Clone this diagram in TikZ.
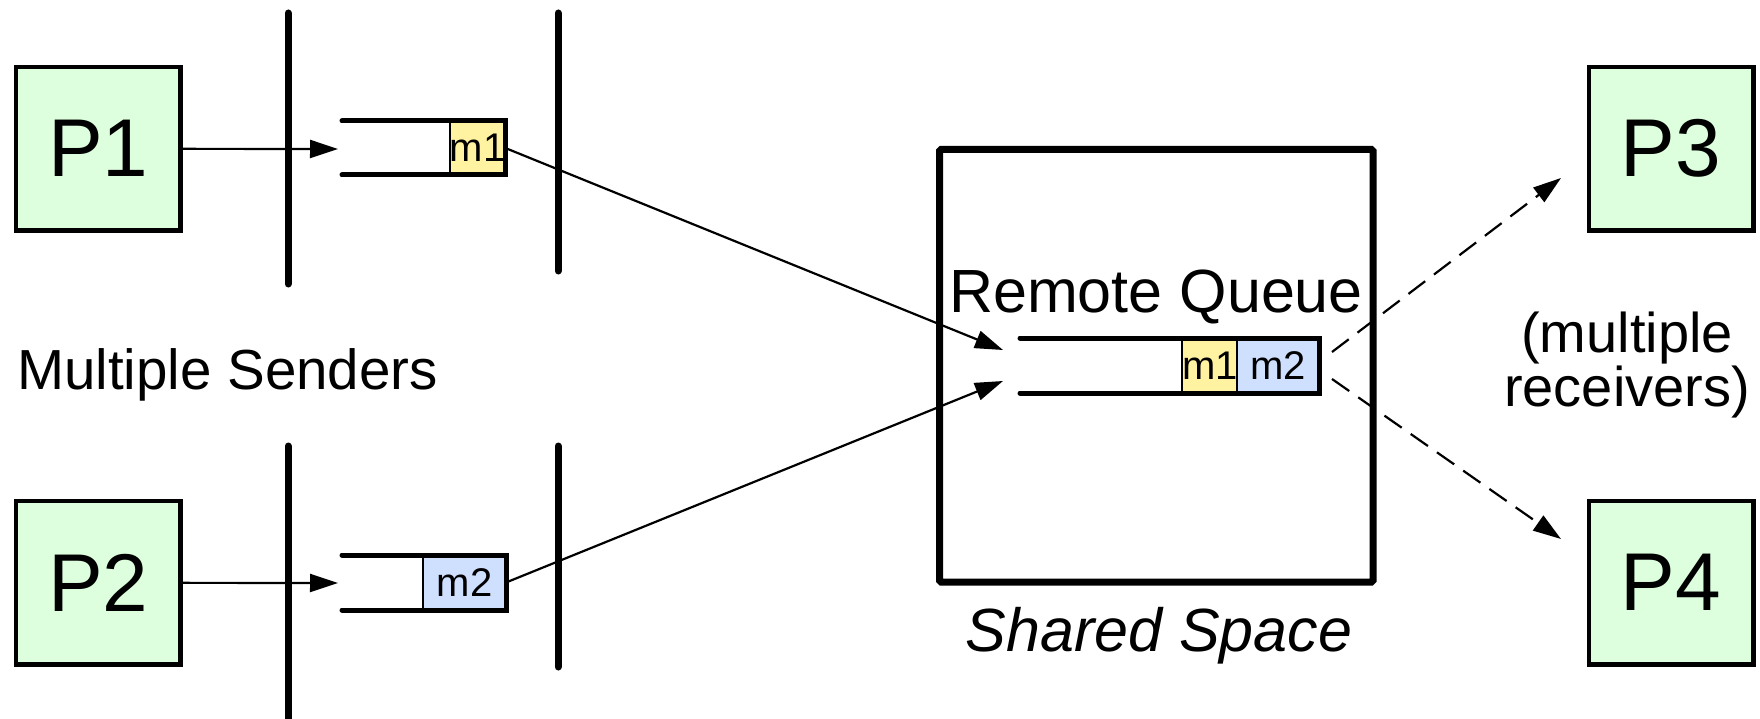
\documentclass[tikz,border=0pt]{standalone}
\usepackage{fontspec}
\setmainfont{Liberation Sans}
\usetikzlibrary{arrows.meta}
\definecolor{procgreen}{RGB}{221,255,221}
\definecolor{msgyellow}{RGB}{255,242,160}
\definecolor{msgblue}{RGB}{207,224,255}
\begin{document}
\begin{tikzpicture}[x=1pt,y=-1pt,
  proc/.style={draw, line width=4.5pt, fill=procgreen, minimum width=164.5pt,
    minimum height=163.5pt, inner sep=0pt, font=\fontsize{82}{90}\selectfont},
  cell/.style={draw, line width=2pt, inner sep=0pt, outer sep=0pt,
    font=\fontsize{40}{44}\selectfont},
  wall/.style={line width=7pt, line cap=round},
  qline/.style={line width=5pt, line cap=round, line join=miter},
  flow/.style={line width=2.2pt, -{Triangle[length=28pt,width=18pt]}},
  recv/.style={flow, dash pattern=on 21pt off 11pt},
  lbl/.style={inner sep=0pt, anchor=base}
]
\useasboundingbox (0,0) rectangle (1760,719);

% processes
\node[proc] (P1) at (98.25,148.75) {P1};
\node[proc] (P2) at (98.25,582.75) {P2};
\node[proc] (P3) at (1671,148.75) {P3};
\node[proc] (P4) at (1671,582.75) {P4};

% address space boundaries of the senders
\draw[wall] (288,13) -- (288,284);
\draw[wall] (558,13) -- (558,271);
\draw[wall] (288,446) -- (288,735);
\draw[wall] (558,446) -- (558,667);

% local send queues
\node[cell, fill=msgyellow, minimum width=55pt, minimum height=54pt] (qa) at (477.5,148) {m1};
\draw[qline] (342,121) -- (qa.north east) -- (qa.south east) -- (342,175);
\node[cell, fill=msgblue, minimum width=83pt, minimum height=55pt] (qb) at (464.5,582.5) {m2};
\draw[qline] (342,555) -- (qb.north east) -- (qb.south east) -- (342,610);

% shared space with the remote queue
\node[draw, line width=7pt, minimum width=433.5pt, minimum height=432.5pt,
  inner sep=0pt, rounded corners=1.5pt] (space) at (1156.25,365.75) {};
\node[lbl, font=\fontsize{61}{70}\selectfont] (rqlabel) at (1156,312) {Remote Queue};
\node[cell, fill=msgyellow, minimum width=54pt, minimum height=55pt] (rm1) at (1210,365.5) {m1};
\node[cell, fill=msgblue, minimum width=82pt, minimum height=55pt] (rm2) at (1278,365.5) {m2};
\draw[qline] (1020,338) -- (rm2.north east) -- (rm2.south east) -- (1020,393);

% arrow end points
\coordinate (q1in) at (338,149);
\coordinate (q2in) at (338,583);
\coordinate (rin1) at (1003,350);
\coordinate (rin2) at (1003,381);
\coordinate (rout1) at (1332,352);
\coordinate (rout2) at (1332,379);
\coordinate (to3) at (1561,178);
\coordinate (to4) at (1561,539);

% message flow
\draw[flow] (P1) -- (q1in);
\draw[flow] (P2) -- (q2in);
\draw[flow] (qa.east) -- (rin1);
\draw[flow] (qb.east) -- (rin2);
\draw[recv] (rout1) -- (to3);
\draw[recv] (rout2) -- (to4);

% labels
\node[lbl, font=\fontsize{56.5}{60}\selectfont] (senders) at (227.5,389) {Multiple Senders};
\node[lbl, font=\fontsize{61}{70}\selectfont\itshape] (shared) at (1159,651) {Shared Space};
\node[lbl, align=center, font=\fontsize{56}{51}\selectfont] (receivers) at (1627,406) {(multiple\\receivers)};
\end{tikzpicture}
\end{document}
